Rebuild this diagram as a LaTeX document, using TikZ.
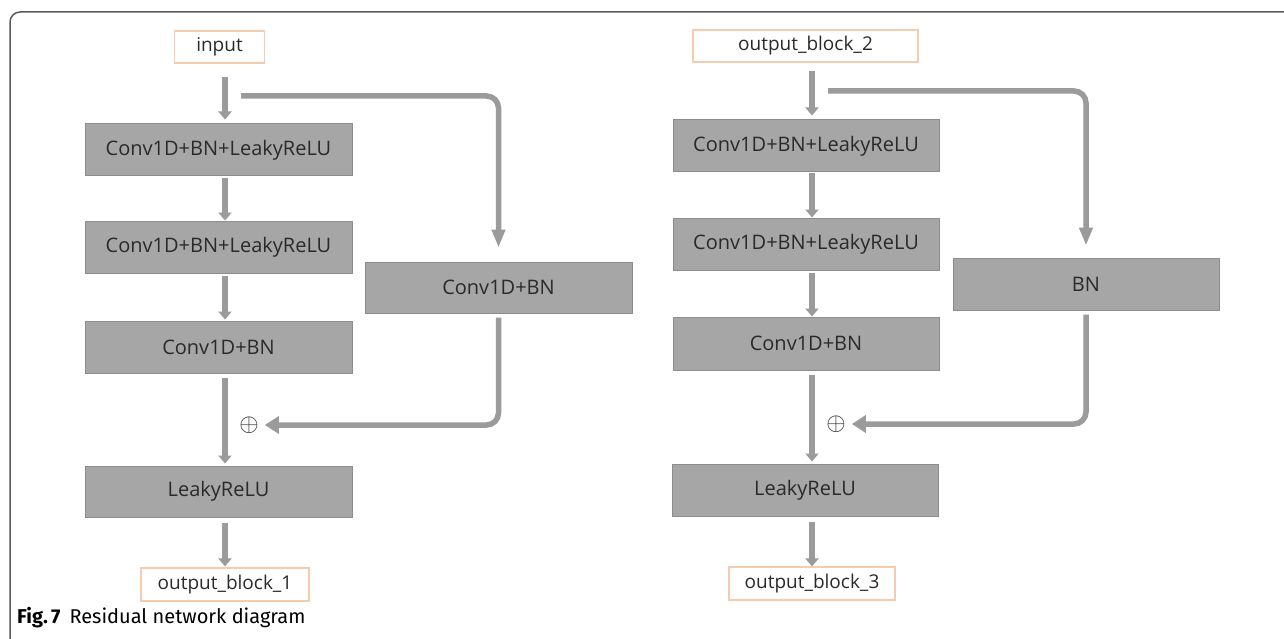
\documentclass[tikz,border=0pt]{standalone}
\usepackage{fontspec}
\setmainfont{Open Sans}
\newfontfamily\capfont{Fira Sans}
\usetikzlibrary{arrows.meta,calc}
\definecolor{boxgray}{HTML}{A6A6A6}
\definecolor{boxedge}{HTML}{8C8C8C}
\definecolor{arrgray}{HTML}{9B9B9B}
\definecolor{ioedge}{HTML}{F6CBAE}
\definecolor{txt}{HTML}{2A2A2A}
\definecolor{framec}{HTML}{5A5A5A}
\tikzset{
  blk/.style={draw=boxedge, line width=1pt, fill=boxgray, text=txt, inner sep=0pt,
    minimum width=267pt, minimum height=52pt, font=\fontsize{20}{20}\selectfont},
  io/.style={draw=ioedge, line width=1.2pt, fill=white, text=txt, inner sep=0pt,
    minimum height=32pt, font=\fontsize{19}{19}\selectfont},
  flow/.style={draw=arrgray, line width=6pt, -{Triangle[width=13pt,length=8pt]}},
  skipdown/.style={draw=arrgray, line width=5.5pt, rounded corners=12pt,
    -{Triangle[width=13pt,length=18pt]}},
  skipleft/.style={draw=arrgray, line width=5.5pt, rounded corners=12pt,
    -{Triangle[width=17pt,length=14pt]}},
  plusnode/.style={inner sep=0pt, text=txt, font=\fontsize{26}{26}\selectfont}
}
\begin{document}
\begin{tikzpicture}[x=1pt,y=-1pt]
\useasboundingbox (0,0) rectangle (1284,639);
\fill[white] (0,0) rectangle (1284,639);
% frame
\draw[framec, line width=1.5pt, rounded corners=10pt] (10,639) -- (10,12) -- (1284,12);

% ---------- left block ----------
\node[io, minimum width=90pt] (in1) at (219.5,47) {input};
\node[blk] (a1) at (218.5,150) {Conv1D+BN+LeakyReLU};
\node[blk] (a2) at (218.5,247) {Conv1D+BN+LeakyReLU};
\node[blk] (a3) at (218.5,347) {Conv1D+BN};
\node[blk, minimum height=51pt] (ar) at (498.5,287.5) {Conv1D+BN};
\node[blk, minimum height=51pt] (a4) at (218.5,491.5) {LeakyReLU};
\node[io, minimum width=168pt, minimum height=33pt] (out1) at (225,584.5) {output\_block\_1};
\node[plusnode] (p1) at (249,425) {$\oplus$};
\coordinate (s1) at (241,96);

\draw[flow, shorten <=13pt, shorten >=4pt] (in1.south -| out1.center) -- (a1.north -| out1.center);
\draw[flow, shorten <=2pt, shorten >=0pt] (a1.south -| out1.center) -- (a2.north -| out1.center);
\draw[flow, shorten <=2pt, shorten >=1pt] (a2.south -| out1.center) -- (a3.north -| out1.center);
\draw[flow, shorten <=4pt, shorten >=2pt] (a3.south -| out1.center) -- (a4.north -| out1.center);
\draw[flow, shorten <=5pt, shorten >=1pt] (a4.south -| out1.center) -- (out1.north);
\draw[skipdown, shorten >=14pt] (s1) -| (ar.north);
\draw[skipleft, shorten <=4pt, shorten >=6pt] (ar.south) |- (p1.east);

% ---------- right block ----------
\node[io, minimum width=225pt] (in2) at (805.5,46) {output\_block\_2};
\node[blk, minimum width=266pt] (c1) at (806,146) {Conv1D+BN+LeakyReLU};
\node[blk, minimum width=266pt] (c2) at (806,244) {Conv1D+BN+LeakyReLU};
\node[blk, minimum width=266pt, minimum height=53pt] (c3) at (806,343.5) {Conv1D+BN};
\node[blk, minimum width=266pt] (bn) at (1086,284) {BN};
\node[blk, minimum width=266pt] (c4) at (805,490) {LeakyReLU};
\node[io, minimum width=166pt, minimum height=33pt] (out3) at (812,583.5) {output\_block\_3};
\node[plusnode] (p2) at (836,424) {$\oplus$};
\coordinate (s2) at (828,91);

\draw[flow, shorten <=8pt, shorten >=4pt] (in2.south -| out3.center) -- (c1.north -| out3.center);
\draw[flow, shorten <=1pt, shorten >=0pt] (c1.south -| out3.center) -- (c2.north -| out3.center);
\draw[flow, shorten <=2pt, shorten >=0pt] (c2.south -| out3.center) -- (c3.north -| out3.center);
\draw[flow, shorten <=4pt, shorten >=2pt] (c3.south -| out3.center) -- (c4.north -| out3.center);
\draw[flow, shorten <=5pt, shorten >=0pt] (c4.south -| out3.center) -- (out3.north);
\draw[skipdown, shorten >=12pt] (s2) -| (bn.north);
\draw[skipleft, shorten <=4pt, shorten >=6pt] (bn.south) |- (p2.east);

% caption
\node[anchor=west, inner sep=0pt, text=black, font=\capfont\fontsize{20}{20}\selectfont] (cap) at (17,618)
  {\textbf{Fig.\,7}\hspace{9pt}Residual network diagram};
\end{tikzpicture}
\end{document}
